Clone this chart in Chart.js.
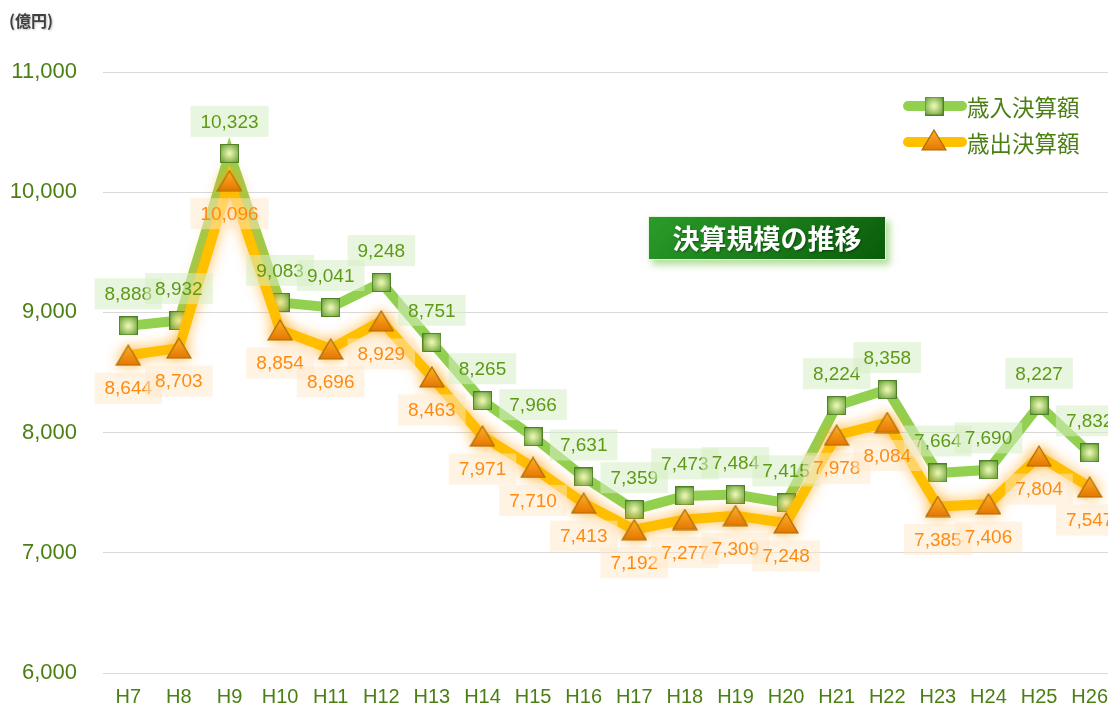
<!DOCTYPE html>
<html>
<head>
<meta charset="utf-8">
<script src="https://cdn.jsdelivr.net/npm/chart.js@4"></script>
<style>
  html, body { margin: 0; padding: 0; background: #fff; overflow: hidden; }
  #wrap { position: relative; width: 1108px; height: 707px; overflow: hidden; }
  #unit {
    position: absolute; left: 9px; top: 8px;
    font: bold 16px "Noto Sans CJK JP", sans-serif; color: #404040;
    text-shadow: 1px 1px 2px rgba(0,0,0,0.25);
  }
  #title {
    position: absolute; left: 648px; top: 216px; width: 236px; height: 42px;
    background: linear-gradient(135deg, #2a9c2a, #0a5c0a);
    border: 1px solid #e8f5e0;
    box-shadow: 4px 5px 7px rgba(130, 200, 90, 0.6);
    color: #fff; font: bold 27px "Noto Sans CJK JP", sans-serif;
    line-height: 42px; text-align: center; letter-spacing: 0px;
    text-shadow: 1px 1px 2px rgba(0,0,0,0.4);
  }
</style>
</head>
<body>
<div id="wrap">
  <canvas id="chart" width="1120" height="713"></canvas>
  <div id="unit">(億円)</div>
  <div id="title">決算規模の推移</div>
</div>
<script>
  // ===== DATA =====
  const years = ["H7", "H8", "H9", "H10", "H11", "H12", "H13", "H14", "H15", "H16",
                 "H17", "H18", "H19", "H20", "H21", "H22", "H23", "H24", "H25", "H26"];
  const revenue = [8888, 8932, 10323, 9083, 9041, 9248, 8751, 8265, 7966, 7631,
                   7359, 7473, 7484, 7415, 8224, 8358, 7664, 7690, 8227, 7832];
  const expenditure = [8644, 8703, 10096, 8854, 8696, 8929, 8463, 7971, 7710, 7413,
                       7192, 7277, 7309, 7248, 7978, 8084, 7385, 7406, 7804, 7547];
  const seriesNames = ["歳入決算額", "歳出決算額"];

  const GREEN_TEXT = "#4a7f12";
  const fmt = v => v.toLocaleString("en-US");

  // ===== MARKERS =====
  function squareMarker() {
    const c = document.createElement("canvas");
    c.width = 19; c.height = 19;
    const g = c.getContext("2d");
    const grad = g.createRadialGradient(9.5, 9.5, 1, 9.5, 9.5, 12);
    grad.addColorStop(0, "#e8f5b0");
    grad.addColorStop(1, "#64a032");
    g.fillStyle = grad;
    g.fillRect(0.5, 0.5, 18, 18);
    g.strokeStyle = "#4f7f26";
    g.lineWidth = 1;
    g.strokeRect(0.5, 0.5, 18, 18);
    return c;
  }
  function triangleMarker() {
    const c = document.createElement("canvas");
    c.width = 26; c.height = 22;
    const g = c.getContext("2d");
    const grad = g.createLinearGradient(0, 0, 0, 22);
    grad.addColorStop(0, "#ffb22a");
    grad.addColorStop(1, "#e47400");
    g.beginPath();
    g.moveTo(13, 1); g.lineTo(25, 21); g.lineTo(1, 21); g.closePath();
    g.fillStyle = grad;
    g.fill();
    g.strokeStyle = "#a86a00";
    g.lineWidth = 1.2;
    g.stroke();
    return c;
  }
  const sq = squareMarker();
  const tri = triangleMarker();

  // ===== PLUGINS =====
  const glowPlugin = {
    id: "glow",
    beforeDatasetDraw(chart, args) {
      const ctx = chart.ctx;
      ctx.save();
      if (args.index === 1) {
        ctx.shadowColor = "rgba(255, 165, 20, 0.75)";
        ctx.shadowBlur = 14;
      }
    },
    afterDatasetDraw(chart) {
      chart.ctx.restore();
    }
  };

  const labelPlugin = {
    id: "valueLabels",
    afterDatasetsDraw(chart) {
      const ctx = chart.ctx;
      ctx.save();
      ctx.font = '19px "Liberation Sans", Arial, sans-serif';
      ctx.textAlign = "center";
      ctx.textBaseline = "middle";
      const styles = [
        { dy: -32, bg: "rgba(214, 238, 196, 0.55)", color: "#5e9a16" },
        { dy: 33, bg: "rgba(255, 232, 200, 0.5)", color: "#ff8c10" }
      ];
      chart.data.datasets.forEach((ds, i) => {
        const meta = chart.getDatasetMeta(i);
        const st = styles[i];
        meta.data.forEach((pt, j) => {
          const text = fmt(ds.data[j]);
          const w = ctx.measureText(text).width + 20;
          const h = 31;
          const x = pt.x, y = pt.y + st.dy;
          ctx.fillStyle = st.bg;
          ctx.fillRect(x - w / 2, y - h / 2, w, h);
          ctx.fillStyle = st.color;
          ctx.fillText(text, x, y + 1);
        });
      });
      ctx.restore();
    }
  };

  const legendPlugin = {
    id: "customLegend",
    afterDraw(chart) {
      const ctx = chart.ctx;
      ctx.save();
      const items = [
        { y: 106, color: "#92d050", marker: sq },
        { y: 142, color: "#ffc000", marker: tri }
      ];
      items.forEach((it, i) => {
        ctx.strokeStyle = it.color;
        ctx.lineWidth = 10;
        ctx.lineCap = "round";
        ctx.beginPath();
        ctx.moveTo(908, it.y);
        ctx.lineTo(962, it.y);
        ctx.stroke();
        const m = it.marker;
        ctx.drawImage(m, 934 - m.width / 2, it.y - m.height / 2 - (i ? 2 : 0));
        ctx.fillStyle = GREEN_TEXT;
        ctx.font = '22.5px "Noto Sans CJK JP", sans-serif';
        ctx.textAlign = "left";
        ctx.textBaseline = "middle";
        ctx.fillText(seriesNames[i], 967, it.y + 1);
      });
      ctx.restore();
    }
  };

  // ===== CHART =====
  new Chart(document.getElementById("chart"), {
    type: "line",
    data: {
      labels: years,
      datasets: [
        {
          label: seriesNames[0],
          data: revenue,
          borderColor: "#92d050",
          borderWidth: 10,
          pointStyle: sq,
          tension: 0,
          order: 2
        },
        {
          label: seriesNames[1],
          data: expenditure,
          borderColor: "#ffc000",
          borderWidth: 10,
          pointStyle: tri,
          tension: 0,
          order: 1
        }
      ]
    },
    options: {
      responsive: false,
      animation: false,
      layout: { autoPadding: false, padding: { top: 72, right: 0, bottom: 0, left: 0 } },
      plugins: {
        legend: { display: false },
        tooltip: { enabled: false }
      },
      scales: {
        x: {
          offset: true,
          grid: { display: false, drawTicks: false },
          border: { display: false },
          ticks: {
            color: GREEN_TEXT,
            padding: 12,
            font: { family: '"Liberation Sans", Arial, sans-serif', size: 20 }
          },
          afterFit(scale) { scale.height = 40; }
        },
        y: {
          min: 6000,
          max: 11000,
          grid: { color: "#d9d9d9", lineWidth: 1, drawTicks: false },
          border: { display: false },
          ticks: {
            stepSize: 1000,
            color: GREEN_TEXT,
            padding: 26,
            font: { family: '"Liberation Sans", Arial, sans-serif', size: 22 },
            callback: v => fmt(v)
          },
          afterFit(scale) { scale.width = 103; }
        }
      }
    },
    plugins: [glowPlugin, labelPlugin, legendPlugin]
  });
</script>
</body>
</html>
